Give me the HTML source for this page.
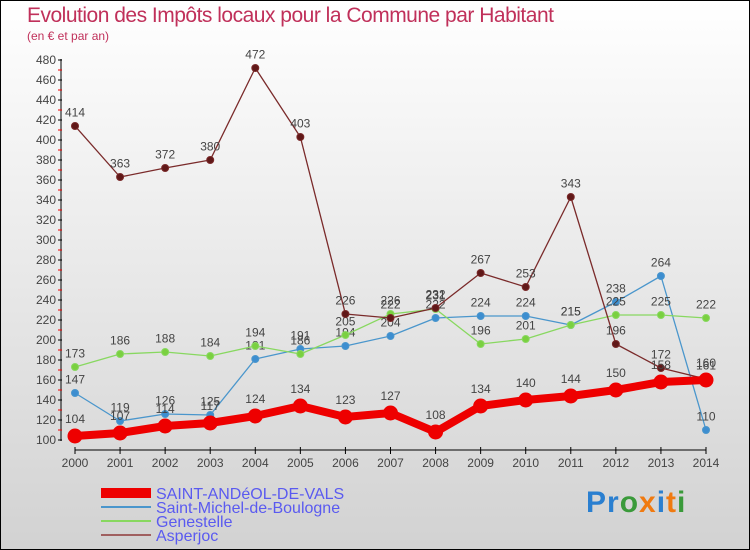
<!DOCTYPE html>
<html><head><meta charset="utf-8"><style>
body{margin:0;width:750px;height:550px;overflow:hidden;font-family:"Liberation Sans",sans-serif}
#wrap{position:relative;width:748px;height:548px;border:1px solid #000;background:linear-gradient(#fff,#d2d2d2)}
.t{position:absolute;color:#c0305a}
</style></head><body>
<div id="wrap">
<div class="t" style="left:26px;top:3px;font-size:21px;letter-spacing:-0.5px">Evolution des Impôts locaux pour la Commune par Habitant</div>
<div class="t" style="left:26px;top:28px;font-size:12px">(en € et par an)</div>
<svg id="svg" width="748" height="548" style="position:absolute;left:0;top:0"></svg>
<div style="position:absolute;left:585px;top:485px;font-size:30px;font-weight:bold;letter-spacing:1px"><span style="color:#2a7fd0">Pr</span><span style="color:#3a9a3a">o</span><span style="color:#f07a10">x</span><span style="color:#2a7fd0">i</span><span style="color:#f07a10">t</span><span style="color:#3a9a3a">i</span></div>
</div>
<script>
const years=[2000,2001,2002,2003,2004,2005,2006,2007,2008,2009,2010,2011,2012,2013,2014];
const yTicks=[100,120,140,160,180,200,220,240,260,280,300,320,340,360,380,400,420,440,460,480];
const sAndeol=[104,107,114,117,124,134,123,127,108,134,140,144,150,158,160];
const sMichel=[147,119,126,125,181,191,194,204,222,224,224,215,238,264,110];
const sGenestelle=[173,186,188,184,194,186,205,226,231,196,201,215,225,225,222];
const sAsperjoc=[414,363,372,380,472,403,226,222,232,267,253,343,196,172,161];
const seriesNames=["SAINT-ANDéOL-DE-VALS","Saint-Michel-de-Boulogne","Genestelle","Asperjoc"];
const svg=document.getElementById('svg');const NS='http://www.w3.org/2000/svg';
const X=i=>74+i*(631/14);const Y=v=>439-(v-100)*(380/380);
function el(t,a,p){const e=document.createElementNS(NS,t);for(const k in a)e.setAttribute(k,a[k]);(p||svg).appendChild(e);return e;}
function txt(x,y,s,a,fs,fill){const e=el('text',{x:x,y:y,'font-size':fs||12,fill:fill||'#444','text-anchor':a||'middle','font-family':'Liberation Sans, sans-serif'});e.textContent=s;return e;}
const ax=el('line',{x1:60,y1:Y(100)+1,x2:60,y2:Y(480)-1,stroke:'#000'});
yTicks.forEach(v=>{el('line',{x1:57,x2:61,y1:Y(v),y2:Y(v),stroke:'#000'});const t=txt(55,Y(v)+4,v,'end',12);if(v<480)el('line',{x1:57,x2:61,y1:Y(v+10),y2:Y(v+10),stroke:'#e00'});});
const xa=el('line',{x1:X(0),x2:X(14),y1:449,y2:449,stroke:'#000'});
years.forEach((y,i)=>{el('line',{x1:X(i),x2:X(i),y1:446,y2:453,stroke:'#000'});const t=txt(X(i),466,y,'middle',12);});
function series(data,color,w,r,name,dot){const g=el('g',{});
el('polyline',{points:data.map((v,i)=>X(i)+','+Y(v)).join(' '),fill:'none',stroke:color,'stroke-width':w,'stroke-linejoin':'round'},g);
data.forEach((v,i)=>{const c=el('circle',{cx:X(i),cy:Y(v),r:r,fill:dot,stroke:color,'stroke-width':1},g);
const t=txt(X(i),Y(v)-(r+6),v,'middle',12,'#444');g.appendChild(t);});}
series(sMichel,'#4a96cc',1.3,3.5,'series-saint-michel','#3d8ed0');
series(sGenestelle,'#88d860',1.3,3.5,'series-genestelle','#7ad040');
series(sAsperjoc,'#7a2a2a',1.3,3.5,'series-asperjoc','#601818');
series(sAndeol,'#ee0000',8,7,'series-saint-andeol','#ee0000');
const leg=[['#ee0000',10],['#4a96cc',2],['#88d860',2],['#a06060',2]];
leg.forEach((l,i)=>{const y=492+i*14;const g=el('g',{});
el('line',{x1:100,x2:150,y1:y,y2:y,stroke:l[0],'stroke-width':l[1]},g);const t=txt(155,y+6,seriesNames[i],'start',16,'#5a5af0');g.appendChild(t);});
</script>
</body></html>
